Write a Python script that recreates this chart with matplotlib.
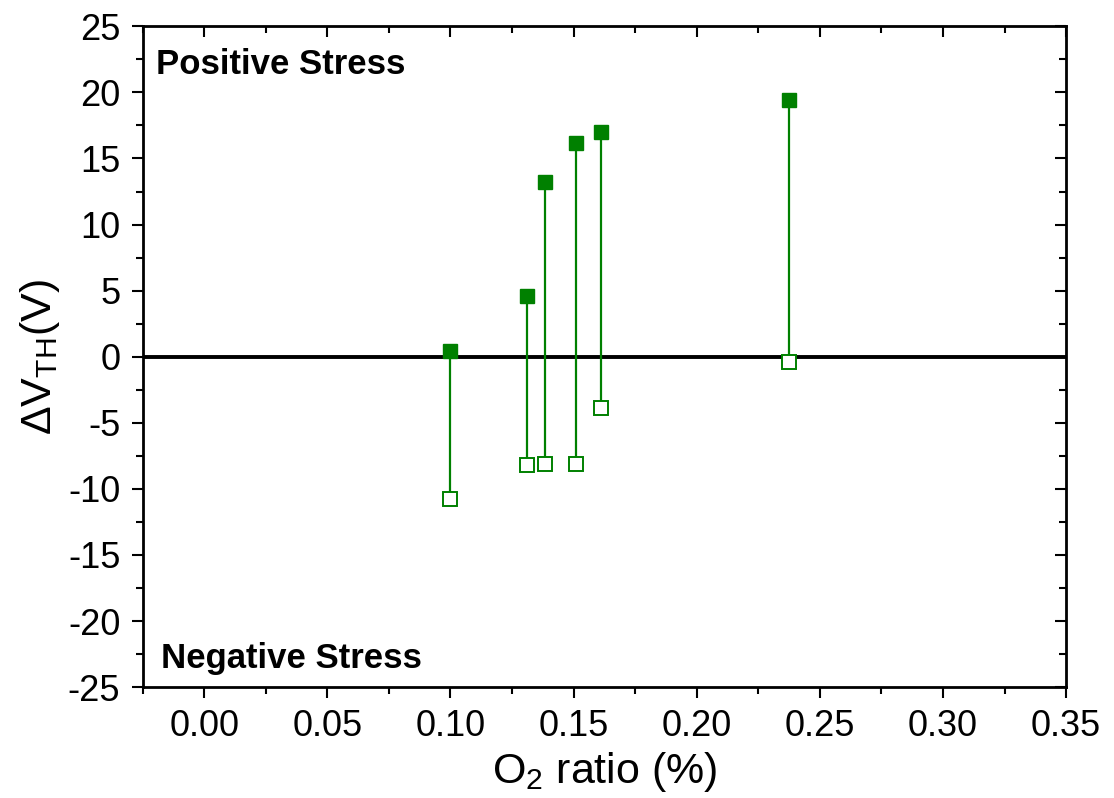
import numpy as np
import matplotlib
matplotlib.use('Agg')
import matplotlib.pyplot as plt
from matplotlib.ticker import MultipleLocator

plt.rcParams['font.family'] = ['Liberation Sans', 'DejaVu Sans']
plt.rcParams['mathtext.fontset'] = 'custom'
plt.rcParams['mathtext.rm'] = 'Liberation Sans'
plt.rcParams['mathtext.it'] = 'Liberation Sans'
plt.rcParams['axes.unicode_minus'] = False

# O2 ratio (%)
o2Ratio = [0.100, 0.131, 0.1385, 0.151, 0.161, 0.2375]
# 양(+) 스트레스 후 Vth 변화
posShift = [0.4, 4.6, 13.2, 16.2, 17.0, 19.4]
# 음(-) 스트레스 후 Vth 변화
negShift = [-10.8, -8.2, -8.1, -8.1, -3.85, -0.4]

green = '#008000'

fig = plt.figure(figsize=(11.14, 7.98), dpi=100)
ax = fig.add_axes([0.128, 0.139, 0.829, 0.828])

ax.axhline(0, color='black', linewidth=2.8, zorder=1)
ax.vlines(o2Ratio, negShift, posShift, color=green, linewidth=1.6, zorder=2)
ax.plot(o2Ratio, posShift, 's', color=green, markersize=9.5, zorder=3)
ax.plot(o2Ratio, negShift, 's', markerfacecolor='white', markeredgecolor=green,
        markeredgewidth=1.4, markersize=9.5, zorder=3)

ax.set_xlim(-0.025, 0.35)
ax.set_ylim(-25, 25)
ax.xaxis.set_major_locator(MultipleLocator(0.05))
ax.xaxis.set_minor_locator(MultipleLocator(0.025))
ax.yaxis.set_major_locator(MultipleLocator(5))
ax.yaxis.set_minor_locator(MultipleLocator(2.5))
ax.xaxis.set_major_formatter(plt.FuncFormatter(lambda v, p: '%.2f' % v))

ax.tick_params(which='both', direction='out', top=False, right=False, labelsize=26, width=1.5)
ax.tick_params(which='major', length=8, pad=8)
ax.tick_params(which='minor', length=5)
for s in ax.spines.values():
    s.set_linewidth(2)

# 위, 오른쪽은 안쪽 틱
ax2 = ax.secondary_xaxis('top')
ax2.xaxis.set_major_locator(MultipleLocator(0.05))
ax2.xaxis.set_minor_locator(MultipleLocator(0.025))
ax2.tick_params(which='both', direction='in', labeltop=False, width=1.5)
ax2.tick_params(which='major', length=8)
ax2.tick_params(which='minor', length=5)
ax3 = ax.secondary_yaxis('right')
ax3.yaxis.set_major_locator(MultipleLocator(5))
ax3.yaxis.set_minor_locator(MultipleLocator(2.5))
ax3.tick_params(which='both', direction='in', labelright=False, width=1.5)
ax3.tick_params(which='major', length=8)
ax3.tick_params(which='minor', length=5)

ax.set_xlabel('O$_2$ ratio (%)', fontsize=31, labelpad=4)
ax.set_ylabel(r'$\Delta$V$_{\mathrm{TH}}$(V)', fontsize=31, labelpad=4)

ax.text(0.014, 0.942, 'Positive Stress', transform=ax.transAxes, fontsize=25,
        fontweight='bold', va='center', ha='left')
ax.text(0.020, 0.044, 'Negative Stress', transform=ax.transAxes, fontsize=25,
        fontweight='bold', va='center', ha='left')

fig.savefig('out.png', dpi=100)
